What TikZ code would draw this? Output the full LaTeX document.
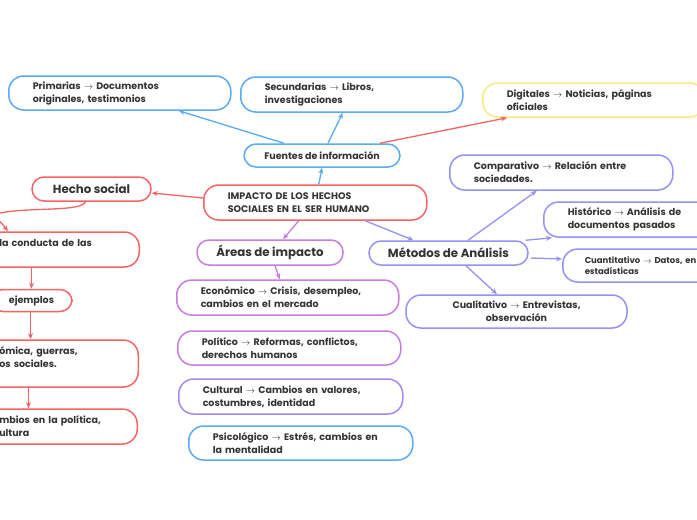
\documentclass[tikz,border=0pt]{standalone}
\usepackage{fontspec}
\setmainfont{Poppins}
\usetikzlibrary{arrows.meta}
\definecolor{txt}{RGB}{51,51,51}
\definecolor{cblue}{RGB}{90,170,245}
\definecolor{cred}{RGB}{245,100,100}
\definecolor{cyel}{RGB}{245,235,130}
\definecolor{cpur}{RGB}{200,125,225}
\definecolor{cvio}{RGB}{150,145,245}
\definecolor{cvio2}{RGB}{165,135,240}
\newcommand\bfnt{\bfseries\fontsize{9.5}{13}\selectfont}
\newcommand\sfnt{\bfseries\fontsize{8.5}{11}\selectfont}
\newcommand\hfnt{\bfseries\fontsize{11.8}{14}\selectfont}
\newcommand\ar{\ $\rightarrow$\ }
\tikzset{
  box/.style={draw=#1, line width=1.5pt, rounded corners=15pt, fill=white, text=txt,
    font=\bfnt, inner xsep=24pt, inner ysep=0pt, align=left, anchor=west},
  hbox/.style={draw=#1, line width=1.5pt, rounded corners=12pt, fill=white, text=txt,
    font=\hfnt, inner sep=0pt, align=center},
  con/.style={draw=#1, line width=1.3pt, -{Stealth[length=6pt,width=5pt]}},
}
\begin{document}
\begin{tikzpicture}[x=1pt,y=-1pt]
\useasboundingbox (0,0) rectangle (697,520);
\fill[white] (0,0) rectangle (697,520);
\clip (0,0) rectangle (697,520);

% Fuentes branch
\node[box=cblue, text width=174pt, minimum width=222pt, minimum height=34pt] (prim) at (8,93)
  {Primarias\ar Documentos\\originales, testimonios};
\node[box=cblue, text width=174pt, minimum width=222pt, minimum height=35pt] (sec) at (240,94.5)
  {Secundarias\ar Libros,\\investigaciones};
\node[box=cyel, text width=174pt, minimum width=222pt, minimum height=34pt] (dig) at (482,100)
  {Digitales\ar Noticias, páginas\\oficiales};
\node[hbox=cblue, font=\bfnt, minimum width=156pt, minimum height=23pt] (fuentes) at (322,155.5)
  {Fuentes de información};

% central
\node[box=cred, text width=175pt, minimum width=223pt, minimum height=35pt] (impacto) at (203,202.5)
  {IMPACTO DE LOS HECHOS\\SOCIALES EN EL SER HUMANO};

% Hecho social branch
\node[hbox=cred, minimum width=119pt, minimum height=24pt] (hecho) at (91.5,189) {Hecho social};
\node[box=cred, anchor=east, text width=116pt, minimum width=164pt, minimum height=35pt] (conducta) at (140,249.5)
  {la conducta de las\\\mbox{}};
\node[hbox=cred, font=\bfnt, minimum width=81pt, minimum height=22pt] (ejemplos) at (31.5,300.5) {ejemplos};
\node[box=cred, anchor=east, text width=115pt, minimum width=163pt, minimum height=47pt] (bnueve) at (139,363.5)
  {ómica, guerras,\\os sociales.\\\mbox{}};
\node[box=cred, anchor=east, text width=114pt, minimum width=162pt, minimum height=35pt] (bdiez) at (138,426.5)
  {mbios en la política,\\ultura};

% Areas branch
\node[hbox=cpur, minimum width=146pt, minimum height=25pt] (areas) at (270,252.5) {Áreas de impacto};
\node[box=cpur, text width=174pt, minimum width=222pt, minimum height=35pt] (econ) at (176,297.5)
  {Económico\ar Crisis, desempleo,\\cambios en el mercado};
\node[box=cpur, text width=175pt, minimum width=223pt, minimum height=34pt] (pol) at (177,348)
  {Político\ar Reformas, conflictos,\\derechos humanos};
\node[box=cvio2, text width=176pt, minimum width=224pt, minimum height=35pt] (cult) at (178,396.5)
  {Cultural\ar Cambios en valores,\\costumbres, identidad};
\node[box=cblue, text width=176pt, minimum width=224pt, minimum height=34pt] (psic) at (188,443)
  {Psicológico\ar Estrés, cambios en\\la mentalidad};

% Metodos branch
\node[hbox=cvio, minimum width=159pt, minimum height=24pt] (metodos) at (448.5,253) {Métodos de Análisis};
\node[box=cvio, text width=175pt, minimum width=223pt, minimum height=35pt] (comp) at (449,172.5)
  {Comparativo\ar Relación entre\\sociedades.};
\node[box=cvio, text width=175pt, minimum width=223pt, minimum height=35pt] (hist) at (543,219.5)
  {Histórico\ar Análisis de\\documentos pasados};
\node[box=cvio, font=\sfnt, inner xsep=22pt, text width=179pt, minimum width=223pt, minimum height=33pt] (cuant) at (562,265.5)
  {Cuantitativo\ar Datos, en\\estadísticas};
\node[hbox=cvio, font=\bfnt, rounded corners=15pt, text width=180pt, minimum width=221pt, minimum height=33pt] (cual) at (516.5,311.5)
  {Cualitativo\ar Entrevistas,\\observación};

% connectors
\draw[con=cblue] ([xshift=3.5pt]impacto.north) -- (fuentes.south);
\draw[con=cblue] ([xshift=-38pt]fuentes.north) -- ([xshift=59pt]prim.south);
\draw[con=cblue] ([xshift=6pt]fuentes.north) -- ([xshift=-9pt]sec.south);
\draw[con=cred] ([xshift=58pt]fuentes.north) -- ([xshift=25pt]dig.south west);
\draw[con=cred] ([yshift=4.5pt]impacto.west) -- ([yshift=-4pt]hecho.east);
\coordinate (hc) at (8,0);
\draw[con=cred] ([xshift=-6pt]hecho.south) .. controls (82,212) and (30,207) .. (0,213)
  .. controls (-10,215) and (-2,218) .. (hc |- conducta.north);
\draw[con=cred] (ejemplos |- conducta.south) -- (ejemplos.north);
\draw[con=cred] ([xshift=-1pt]ejemplos.south) -- ([xshift=-1pt]ejemplos.south |- bnueve.north);
\draw[con=cred] ([xshift=-3pt]ejemplos.south |- bnueve.south) -- ([xshift=-3pt]ejemplos.south |- bdiez.north);
\draw[con=cpur] ([xshift=-16.5pt]impacto.south) -- ([xshift=13pt]areas.north);
\draw[con=cpur] ([xshift=5pt]areas.south) -- ([xshift=-8pt]econ.north);
\draw[con=cvio] ([xshift=50pt]impacto.south) -- ([xshift=-35pt]metodos.north);
\draw[con=cvio] ([xshift=19.5pt]metodos.north) -- ([xshift=-24.5pt]comp.south);
\draw[con=cvio] ([xshift=-3pt]metodos.north east) -- ([xshift=9pt]hist.south west);
\draw[con=cvio] ([xshift=2pt,yshift=-5pt]metodos.east) -- ([yshift=6.5pt]cuant.west);
\draw[con=cvio] ([xshift=17.5pt]metodos.south) -- ([xshift=-19.5pt]cual.north);
\end{tikzpicture}
\end{document}
